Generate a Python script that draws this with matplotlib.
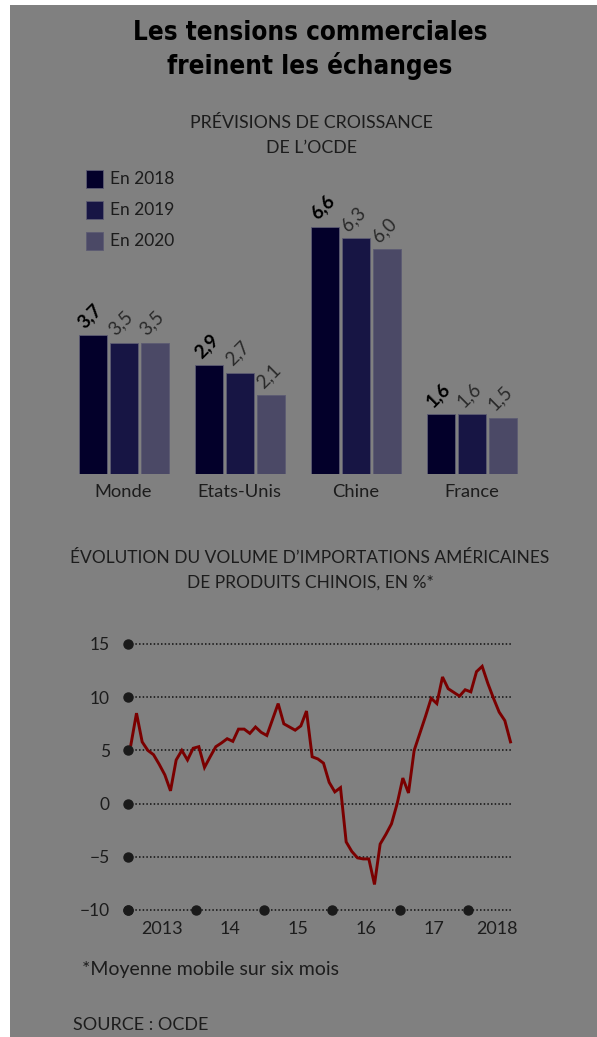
import numpy as np
import matplotlib
matplotlib.use('Agg')
import matplotlib.pyplot as plt
from matplotlib.patches import Rectangle

# --- données ---
pays = ['Monde', 'Etats-Unis', 'Chine', 'France']
prev_2018 = [3.7, 2.9, 6.6, 1.6]
prev_2019 = [3.5, 2.7, 6.3, 1.6]
prev_2020 = [3.5, 2.1, 6.0, 1.5]
series_labels = ['En 2018', 'En 2019', 'En 2020']

# importations US de produits chinois, moyenne mobile 6 mois, janv. 2013 -> août 2018
imports = [5.5, 8.5, 5.8, 5.0, 4.6, 3.7, 2.7, 1.2, 4.1, 5.0, 4.1, 5.2,
           5.35, 3.4, 4.4, 5.35, 5.7, 6.1, 5.85, 7.0, 7.0, 6.6, 7.2, 6.7,
           6.4, 7.9, 9.4, 7.5, 7.2, 6.9, 7.3, 8.7, 4.4, 4.2, 3.8, 2.0,
           1.1, 1.5, -3.6, -4.5, -5.1, -5.2, -5.2, -7.6, -3.8, -2.9, -1.9, 0.0,
           2.4, 1.0, 5.0, 6.6, 8.2, 9.9, 9.4, 11.9, 10.8, 10.45, 10.1, 10.7,
           10.5, 12.4, 12.9, 11.3, 9.9, 8.6, 7.8, 5.8]
yticks = [15, 10, 5, 0, -5, -10]
year_labels = ['2013', '14', '15', '16', '17', '2018']

W, H = 597, 1037
fig = plt.figure(figsize=(W / 100, H / 100), dpi=100)
fig.patch.set_facecolor('white')
fig.add_artist(Rectangle((10 / W, 0), 1, (H - 5) / H, transform=fig.transFigure,
                         facecolor='#808080', edgecolor='none', zorder=0))

body = 'Lato'
txt = '#1c1c1c'

def fy(py):
    return 1 - py / H

def fx(px):
    return px / W

# titres
for yy, s in [(33, 'Les tensions commerciales'), (66, 'freinent les échanges')]:
    fig.text(fx(310), fy(yy), s, ha='center', va='center', fontsize=18.6,
             fontweight='bold', family=['DejaVu Sans'], fontstretch='condensed',
             color='black')
fig.text(fx(311), fy(123), 'PRÉVISIONS DE CROISSANCE', ha='center', va='center',
         fontsize=12.8, family=body, color=txt)
fig.text(fx(311), fy(148), 'DE L\u2019OCDE', ha='center', va='center',
         fontsize=12.8, family=body, color=txt)

# --- barres ---
colors = ['#03002a', '#171544', '#4b4966']
ax1 = fig.add_axes([fx(70), fy(474), fx(530) - fx(70), (474 - 160) / H])
ax1.set_facecolor('none')
x = np.arange(len(pays))
step = 31 / 116
width = 28 / 116
for k, vals in enumerate([prev_2018, prev_2019, prev_2020]):
    pos = x + (k - 1) * step
    ax1.bar(pos, vals, width=width, color=colors[k], edgecolor='#5c5b72',
            linewidth=0.6, zorder=2)
    for p, v in zip(pos, vals):
        ax1.annotate(f'{v:.1f}'.replace('.', ','), (p, v), xytext=(-4, 3),
                     textcoords='offset points', rotation=45, ha='left', va='bottom',
                     rotation_mode='anchor', fontsize=13.5, family=body,
                     fontweight='bold' if k == 0 else 'normal',
                     color='black' if k == 0 else '#2a2a2a')
ax1.set_xlim((70 - 123.5) / 116, (530 - 123.5) / 116)
ax1.set_ylim(0, 314 / 37.45)
ax1.set_xticks(x)
ax1.set_xticklabels(pays, fontsize=13.2, family=body, color=txt)
ax1.tick_params(axis='x', length=0, pad=7)
ax1.set_yticks([])
for s in ax1.spines.values():
    s.set_visible(False)

# légende
for k, lab in enumerate(series_labels):
    yc = 179 + k * 31
    fig.add_artist(Rectangle((fx(86), fy(yc + 8.5)), 17 / W, 17 / H,
                             transform=fig.transFigure, facecolor=colors[k],
                             edgecolor='#5c5b72', linewidth=0.6))
    fig.text(fx(110), fy(yc), lab, ha='left', va='center', fontsize=12.5,
             family=body, color=txt)

# --- courbe ---
fig.text(fx(310), fy(558), 'ÉVOLUTION DU VOLUME D\u2019IMPORTATIONS AMÉRICAINES',
         ha='center', va='center', fontsize=12.5, family=body, color=txt)
fig.text(fx(310), fy(583), 'DE PRODUITS CHINOIS, EN %*',
         ha='center', va='center', fontsize=12.5, family=body, color=txt)

ax2 = fig.add_axes([fx(128), fy(910), fx(513) - fx(128), (910 - 644) / H])
ax2.set_facecolor('none')
t = 2013 + (np.arange(len(imports)) + 0.5) / 12
xmax = 2013 + (513 - 128) / 68
for yv in yticks:
    ax2.plot([2013, xmax], [yv, yv], color='#111111', lw=1.1,
             dashes=(1, 1.4), zorder=1, clip_on=False)
ax2.plot(t, imports, color='#7a0000', lw=2.1, zorder=3, solid_joinstyle='miter')
ax2.plot([2013] * len(yticks), yticks, 'o', color='#1a1a1a', ms=6.5,
         clip_on=False, zorder=4)
ax2.plot(np.arange(2013, 2019), [-10] * 6, 'o', color='#1a1a1a', ms=6.5,
         clip_on=False, zorder=4)
ax2.set_xlim(2013, xmax)
ax2.set_ylim(-10, 15)
ax2.set_yticks(yticks)
ax2.set_yticklabels([str(v).replace('-', '\u2212') for v in yticks],
                    fontsize=12.5, family=body, color=txt)
ax2.tick_params(axis='y', length=0, pad=13)
ax2.set_xticks([2013.5, 2014.5, 2015.5, 2016.5, 2017.5, 2018.43])
ax2.set_xticklabels(year_labels, fontsize=13, family=body, color=txt)
ax2.tick_params(axis='x', length=0, pad=8)
for s in ax2.spines.values():
    s.set_visible(False)

fig.text(fx(82), fy(970), '*Moyenne mobile sur six mois', ha='left', va='center',
         fontsize=14, family=body, color=txt)
fig.text(fx(73), fy(1025), 'SOURCE : OCDE', ha='left', va='center',
         fontsize=13, family=body, color=txt)

fig.savefig('out.png', dpi=100, facecolor=fig.get_facecolor())
